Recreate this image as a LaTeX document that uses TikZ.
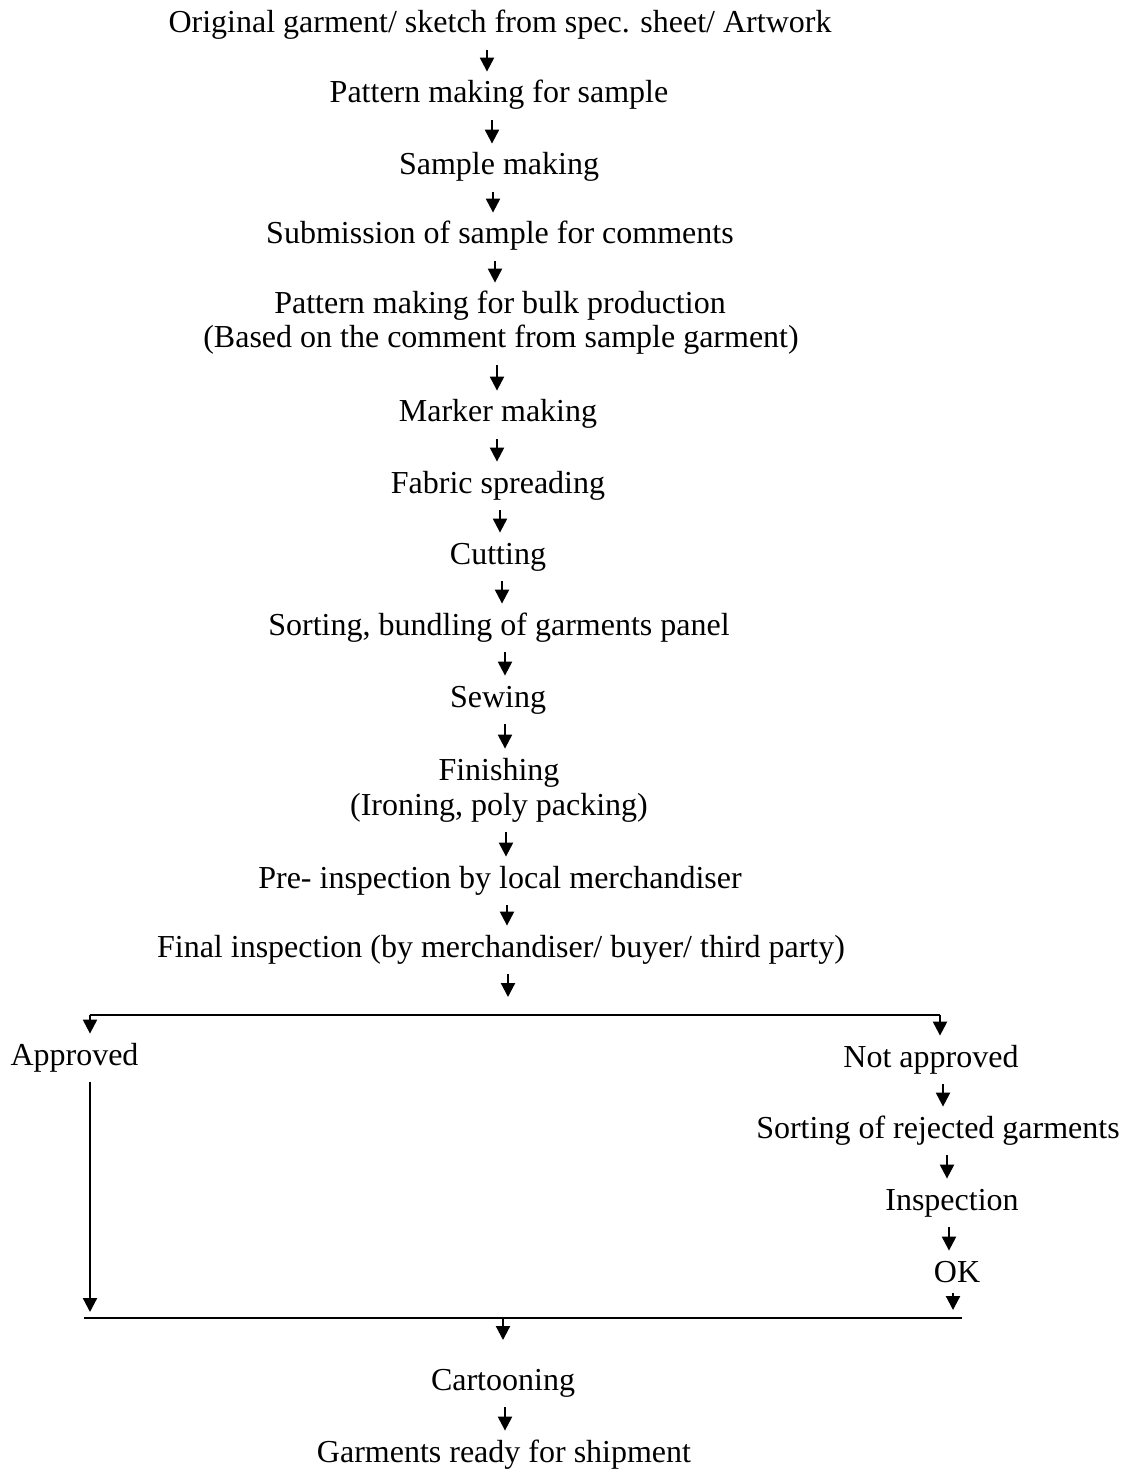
\documentclass[tikz,border=0pt]{standalone}
\usepackage{fontspec}
\setmainfont{Liberation Serif}
\usetikzlibrary{arrows.meta}
\begin{document}
\begin{tikzpicture}[x=0.5pt,y=-0.5pt,
  txt/.style={font=\fontsize{16}{19}\selectfont, inner sep=0pt, text height=15.5pt, text depth=8.5pt, anchor=base},
  arr/.style={-{Triangle[width=7pt,length=7pt]}, line width=1.1pt},
  ln/.style={line width=1.1pt}]
\useasboundingbox (0,0) rectangle (1135,1470);
% main column
\node[txt] (t1)  at (500,33)  {Original garment/ sketch from spec. sheet/ Artwork};
\node[txt] (t2)  at (499,103) {Pattern making for sample};
\node[txt] (t3)  at (499,175) {Sample making};
\node[txt] (t4)  at (500,244) {Submission of sample for comments};
\node[txt] (t5)  at (500,314) {Pattern making for bulk production};
\node[txt] (t5b) at (501,348) {(Based on the comment from sample garment)};
\node[txt] (t6)  at (498,422) {Marker making};
\node[txt] (t7)  at (498,493) {Fabric spreading};
\node[txt] (t8)  at (498,564) {Cutting};
\node[txt] (t9)  at (499,635) {Sorting, bundling of garments panel};
\node[txt] (t10) at (498,707) {Sewing};
\node[txt] (t11) at (499,780) {Finishing};
\node[txt] (t11b) at (499,815) {(Ironing, poly packing)};
\node[txt] (t12) at (500,888) {Pre- inspection by local merchandiser};
\node[txt] (t13) at (501,957) {Final inspection (by merchandiser/ buyer/ third party)};
% branches
\node[txt] (ap) at (74.5,1065) {Approved};
\node[txt] (na) at (931,1067) {Not approved};
\node[txt] (sr) at (938,1138) {Sorting of rejected garments};
\node[txt] (ins) at (952,1210) {Inspection};
\node[txt] (ok) at (957,1282) {OK};
\node[txt] (ct) at (503,1390) {Cartooning};
\node[txt] (gr) at (504,1462) {Garments ready for shipment};
% column arrows
\foreach \a/\b/\x in {t1/t2/487, t2/t3/492, t3/t4/493, t4/t5/495, t5b/t6/497,
  t6/t7/497, t7/t8/500, t8/t9/502, t9/t10/505, t10/t11/505, t11b/t12/506,
  t12/t13/507, na/sr/943, sr/ins/947, ins/ok/949, ct/gr/505}{
  \coordinate (ax) at (\x,0);
  \draw[arr] (\a.south -| ax) -- (\b.north -| ax);
}
% arrow from final inspection
\coordinate (j1) at (508,997);
\draw[arr] (t13.south -| j1) -- (j1);
% split line
\coordinate (bl) at (90,1015);
\coordinate (br) at (940,1015);
\draw[ln] (bl) -- (br);
\draw[arr] (bl) -- (bl |- ap.north);
\draw[arr] (br) -- (br |- na.north);
% to the merge line
\coordinate (bL) at (90,1312);
\draw[arr] (ap.south -| bL) -- (bL);
\coordinate (bR) at (953,1310);
\draw[arr] ([yshift=3pt]ok.south -| bR) -- (bR);
\coordinate (m1) at (84,1318);
\coordinate (m2) at (962,1318);
\draw[ln] (m1) -- (m2);
\coordinate (c0) at (503,1318);
\coordinate (c1) at (503,1340);
\draw[arr] (c0) -- (c1);
\end{tikzpicture}
\end{document}
